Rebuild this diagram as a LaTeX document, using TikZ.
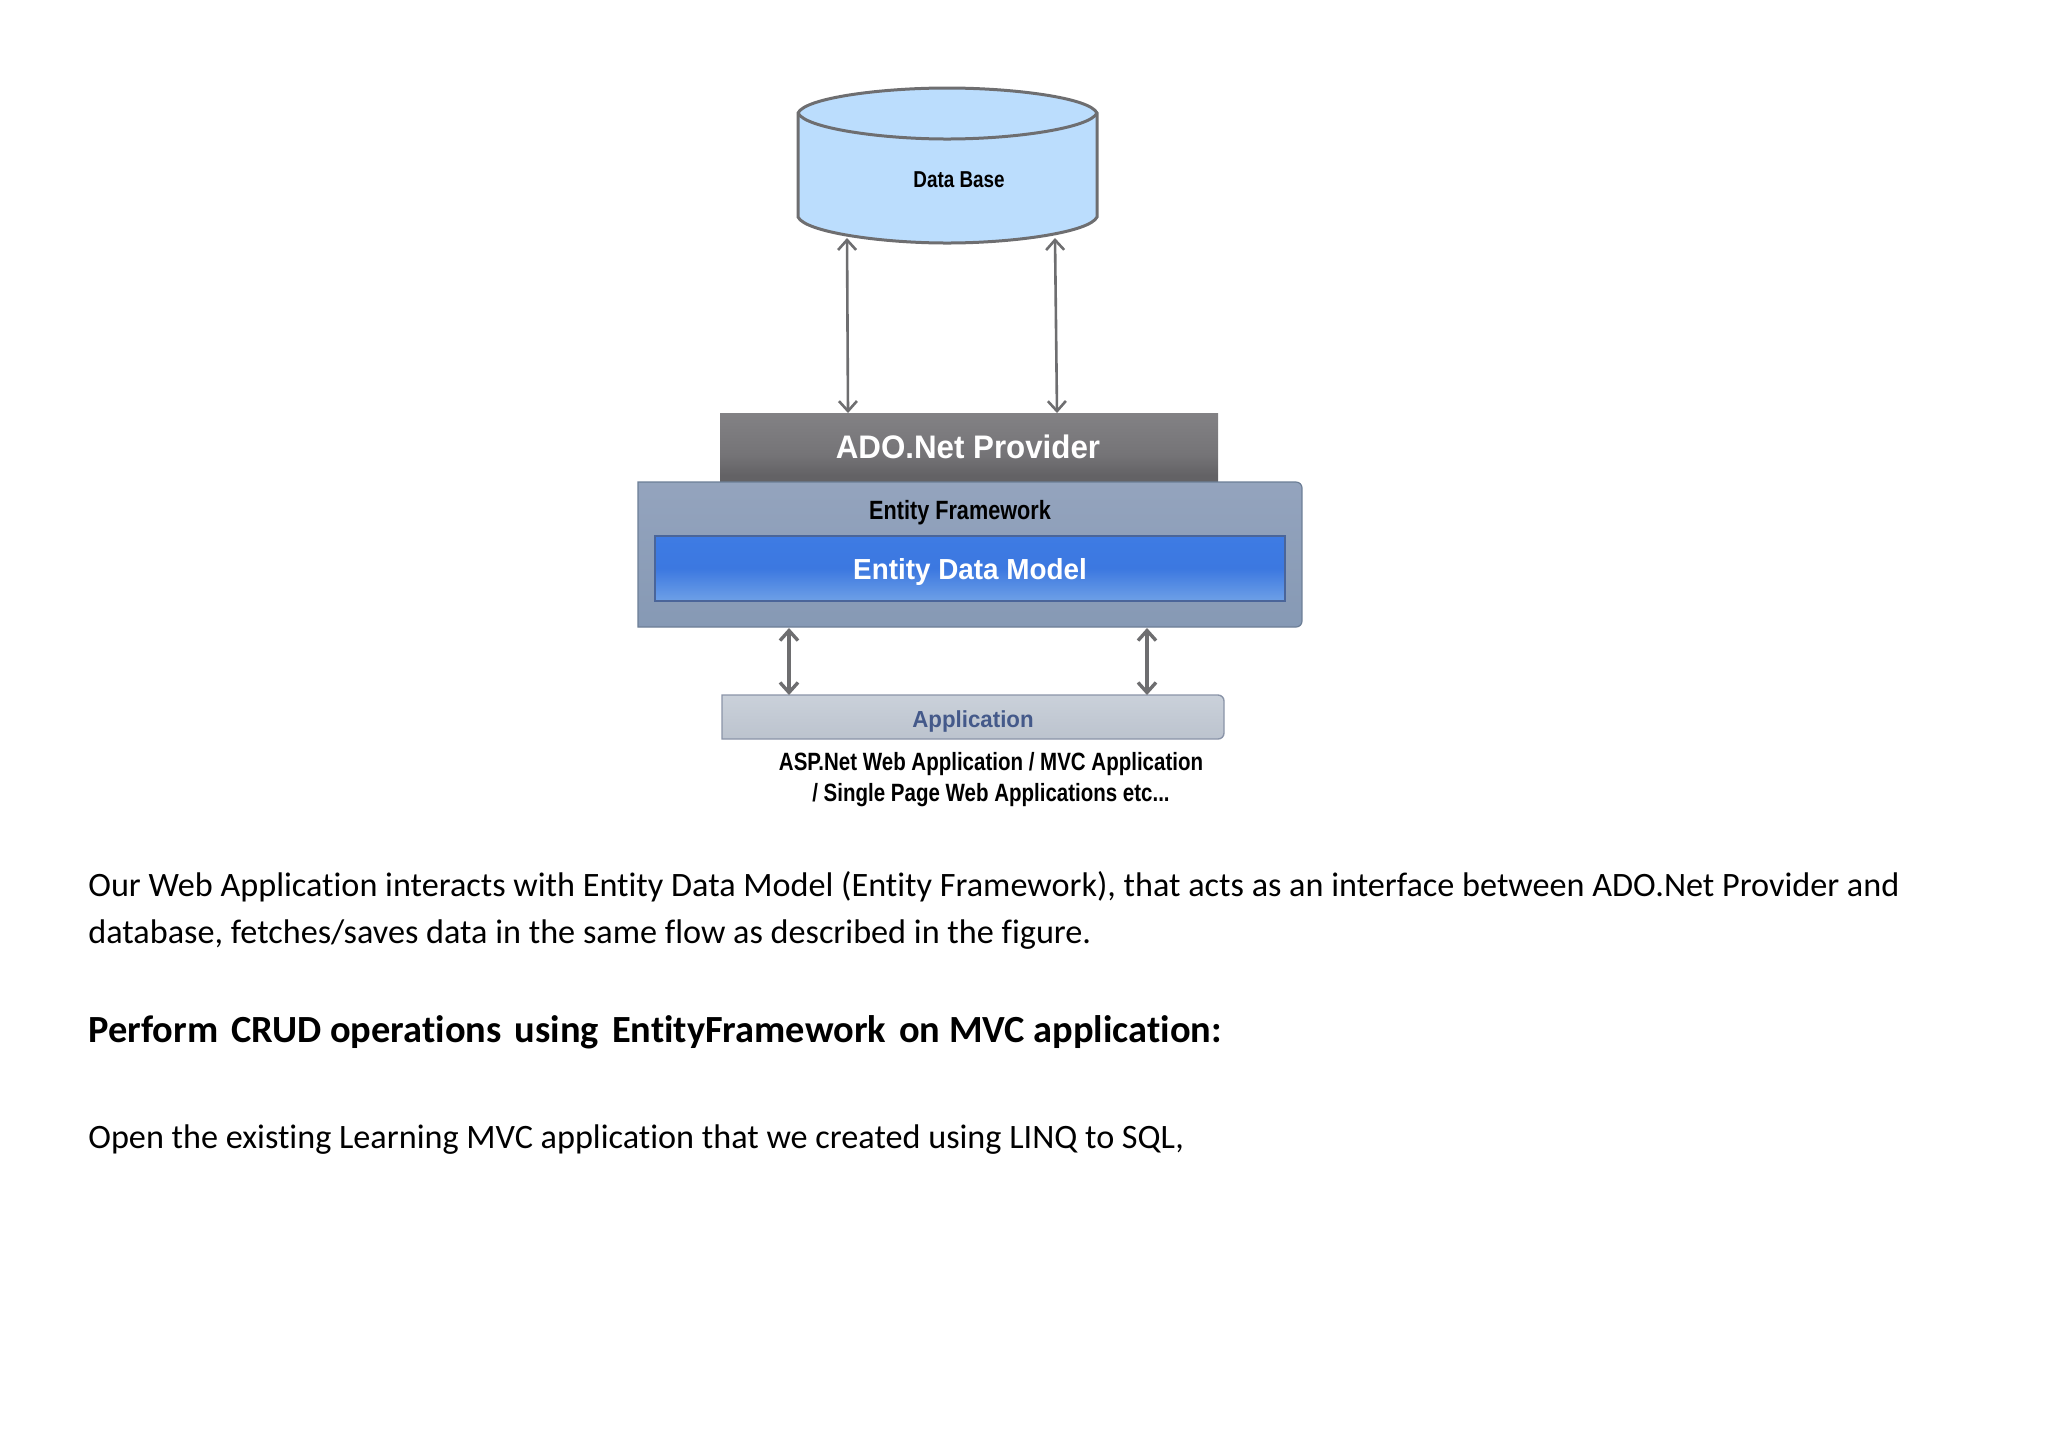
\documentclass[tikz,border=0pt]{standalone}
\usepackage{fontspec}
\setmainfont{Liberation Sans}
\newfontfamily\bodyfont[RawFeature=-liga;-clig]{Carlito}
\newfontfamily\narA[FakeStretch=0.82]{Liberation Sans}
\newfontfamily\narB[FakeStretch=0.96]{Liberation Sans}
\usetikzlibrary{arrows.meta}
\definecolor{ado1}{HTML}{8E8D90}
\definecolor{ado2}{HTML}{757477}
\definecolor{ado3}{HTML}{636265}
\definecolor{ef1}{HTML}{9BA9C2}
\definecolor{ef2}{HTML}{7F94B0}
\definecolor{edm1}{HTML}{1E3F86}
\definecolor{edm2b}{HTML}{3F7DE6}
\definecolor{edm2}{HTML}{3C78E0}
\definecolor{edm3}{HTML}{78A8E8}
\definecolor{app1}{HTML}{D2D8E0}
\definecolor{app2}{HTML}{B4BCC8}
\definecolor{dbfill}{HTML}{BBDDFD}
\definecolor{lineg}{HTML}{6E6E70}
\definecolor{appline}{HTML}{8A94A8}
\definecolor{apptext}{HTML}{44598A}
\pgfdeclareverticalshading{adoshade}{100bp}{color(0bp)=(ado3); color(30bp)=(ado3); color(45bp)=(ado2); color(100bp)=(ado1)}
\pgfdeclareverticalshading{efshade}{100bp}{color(0bp)=(ef2); color(100bp)=(ef1)}
\pgfdeclareverticalshading{edmshade}{100bp}{color(0bp)=(edm3); color(20bp)=(edm3); color(50bp)=(edm2); color(90bp)=(edm2b); color(100bp)=(edm1)}
\pgfdeclareverticalshading{appshade}{100bp}{color(0bp)=(app2); color(100bp)=(app1)}
\newcommand{\dgap}{\hspace{2.2pt}}
\tikzset{
  x=0.5pt,y=-0.5pt,
  dbl/.style={draw=lineg,line width=1.3pt,{Straight Barb[length=5pt,width=9pt]}-{Straight Barb[length=5pt,width=9pt]}},
  lab/.style={inner sep=0pt,font=\bfseries},
  body/.style={inner sep=0pt,anchor=base west,font=\bodyfont\fontsize{17.1}{20}\selectfont},
}
\begin{document}
\begin{tikzpicture}
\useasboundingbox (0,0) rectangle (2048,1448);
% database
\draw[lineg,line width=1.5pt,fill=dbfill] (798,113) -- (798,217) .. controls (805,232) and (880,243) .. (947,243) .. controls (1015,243) and (1090,232) .. (1097,217) -- (1097,113) .. controls (1090,98) and (1015,88) .. (947,88) .. controls (880,88) and (805,98) .. (798,113) -- cycle;
\draw[lineg,line width=1.5pt] (798,113) .. controls (805,128) and (880,139) .. (947,139) .. controls (1015,139) and (1090,128) .. (1097,113);
\node[lab,font=\narA\fontsize{11.5}{13}\selectfont\bfseries] (dbl) at (959,180) {Data Base};
% ADO
\path[shading=adoshade] (720,413) rectangle (1218,482);
\node[lab,text=white,font=\narB\fontsize{16.3}{19}\selectfont\bfseries] (adol) at (968,447) {ADO.Net Provider};
% EF
\path[shading=efshade,draw=ef2!85!black,line width=0.6pt] (638,482) -- (1296,482) to[out=0,in=90] (1302,488) -- (1302,621) to[out=-90,in=0] (1296,627) -- (638,627) -- cycle;
\node[lab,font=\narA\fontsize{13.2}{16}\selectfont\bfseries] (efl) at (960,513) {Entity Framework};
% EDM
\path[shading=edmshade,draw=edm1!55!ef2,line width=0.8pt] (655,536) rectangle (1285,601);
\node[lab,text=white,font=\narB\fontsize{14.5}{17}\selectfont\bfseries] (edml) at (970,572) {Entity Data Model};
% App
\path[shading=appshade,draw=appline,line width=0.7pt] (722,695) -- (1218,695) to[out=0,in=90] (1224,701) -- (1224,733) to[out=-90,in=0] (1218,739) -- (722,739) -- cycle;
\node[lab,text=apptext,font=\narB\fontsize{11.6}{13}\selectfont\bfseries] (appl) at (973,721) {Application};
\node[lab,font=\narA\fontsize{12.5}{15}\selectfont\bfseries] (asp1) at (991,764) {ASP.Net Web Application / MVC Application};
\node[lab,font=\narA\fontsize{12.5}{15}\selectfont\bfseries] (asp2) at (991,795) {/ Single Page Web Applications etc...};
% connector ends
\coordinate (dba) at (847,238); \coordinate (adoa) at (848,413);
\coordinate (dbb) at (1055,238); \coordinate (adob) at (1057,413);
\coordinate (efa) at (789,628); \coordinate (appa) at (789,695);
\coordinate (efb) at (1147,628); \coordinate (appb) at (1147,695);
\draw[dbl] (dba) -- (adoa);
\draw[dbl] (dbb) -- (adob);
\draw[dbl,line width=1.7pt] (efa) -- (appa);
\draw[dbl,line width=1.7pt] (efb) -- (appb);
% body text
\node[body] (t1) at (88,896) {Our Web Application interacts with Entity Data Model (Entity Framework), that acts as an interface between ADO.Net Provider and};
\node[body] (t2) at (88,943) {database, fetches/saves data in the same flow as described in the figure.};
\node[body,font=\bodyfont\bfseries\fontsize{19.2}{23}\selectfont] (t3) at (88,1042) {Perform \dgap CRUD operations \dgap using \dgap EntityFramework \dgap on MVC application:};
\node[body] (t4) at (88,1148) {Open the existing Learning MVC application that we created using LINQ to SQL,};
\end{tikzpicture}
\end{document}
